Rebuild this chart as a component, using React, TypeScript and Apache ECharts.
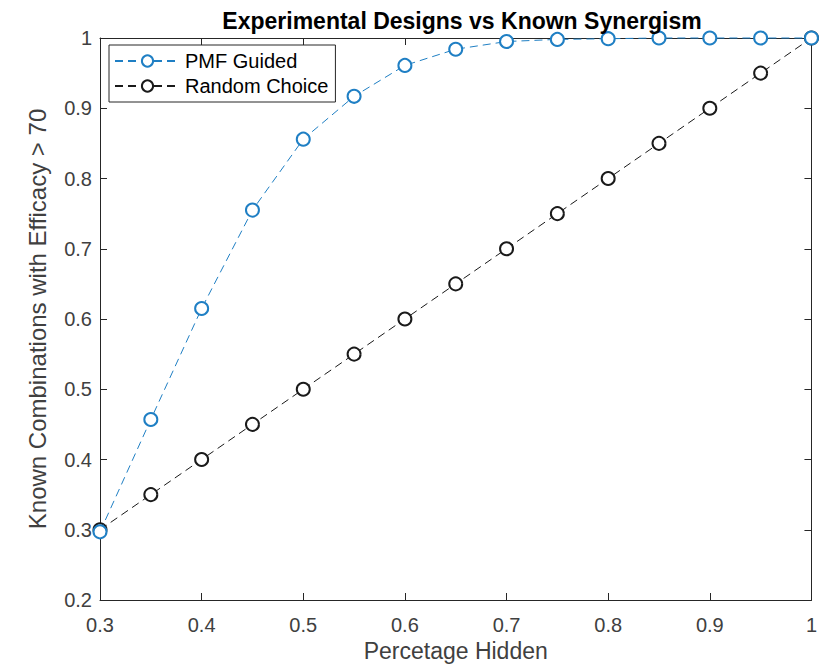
import React, { useEffect, useRef } from "react";
import * as echarts from "echarts";

const xValues = [0.3, 0.35, 0.4, 0.45, 0.5, 0.55, 0.6, 0.65, 0.7, 0.75, 0.8, 0.85, 0.9, 0.95, 1.0];
const pmfGuided = [0.297, 0.457, 0.615, 0.755, 0.856, 0.917, 0.961, 0.984, 0.995, 0.998, 0.999, 1.0, 1.0, 1.0, 1.0];
const randomChoice = [0.3, 0.35, 0.4, 0.45, 0.5, 0.55, 0.6, 0.65, 0.7, 0.75, 0.8, 0.85, 0.9, 0.95, 1.0];

const FONT = "Liberation Sans, Arial, Helvetica, sans-serif";
const AXIS_COLOR = "#262626";
const LABEL_COLOR = "#404040";
const BLUE = "#1f7fc4";
const BLACK = "#1a1a1a";

export default function App() {
  const ref = useRef<HTMLDivElement>(null);
  useEffect(() => {
    if (!ref.current) return;
    const chart = echarts.init(ref.current, undefined, { renderer: "svg" });
    const fmt = (v: number) => String(+v.toFixed(1));
    const tick = { show: true, inside: true, length: 7, lineStyle: { color: AXIS_COLOR, width: 1 } };
    const axisLine = { show: true, lineStyle: { color: AXIS_COLOR, width: 1 } };
    chart.setOption({
      animation: false,
      backgroundColor: "#ffffff",
      title: {
        text: "Experimental Designs vs Known Synergism",
        left: 457,
        textAlign: "center",
        top: 4,
        textStyle: { fontFamily: FONT, fontSize: 23, fontWeight: "bold", color: "#000" },
      },
      legend: {
        orient: "vertical",
        left: 109,
        top: 45,
        backgroundColor: "#fff",
        borderColor: AXIS_COLOR,
        borderWidth: 1,
        borderRadius: 0,
        padding: [6, 7, 6, 5],
        itemGap: 5,
        itemWidth: 65,
        itemHeight: 14,
        textStyle: { fontFamily: FONT, fontSize: 20, color: "#000" },
        data: ["PMF Guided", "Random Choice"],
      },
      grid: { left: 100, right: 6, top: 38, bottom: 71, containLabel: false },
      xAxis: [
        {
          type: "value",
          min: 0.3,
          max: 1,
          interval: 0.1,
          name: "Percetage Hidden",
          nameLocation: "middle",
          nameGap: 38,
          nameTextStyle: { fontFamily: FONT, fontSize: 23, color: LABEL_COLOR },
          axisLine,
          axisTick: tick,
          splitLine: { show: false },
          axisLabel: { fontFamily: FONT, fontSize: 20, color: LABEL_COLOR, margin: 15, formatter: fmt },
        },
        {
          type: "value",
          position: "top",
          min: 0.3,
          max: 1,
          interval: 0.1,
          axisLine,
          axisTick: tick,
          splitLine: { show: false },
          axisLabel: { show: false },
        },
      ],
      yAxis: [
        {
          type: "value",
          min: 0.2,
          max: 1,
          interval: 0.1,
          name: "Known Combinations with Efficacy > 70",
          nameLocation: "middle",
          nameGap: 51,
          nameTextStyle: { fontFamily: FONT, fontSize: 24, color: LABEL_COLOR },
          axisLine,
          axisTick: tick,
          splitLine: { show: false },
          axisLabel: { fontFamily: FONT, fontSize: 20, color: LABEL_COLOR, margin: 8, formatter: fmt },
        },
        {
          type: "value",
          position: "right",
          min: 0.2,
          max: 1,
          interval: 0.1,
          axisLine,
          axisTick: tick,
          splitLine: { show: false },
          axisLabel: { show: false },
        },
      ],
      series: [
        {
          name: "PMF Guided",
          type: "line",
          data: xValues.map((x, i) => [x, pmfGuided[i]]),
          symbol: "emptyCircle",
          symbolSize: 13,
          clip: false,
          z: 3,
          emphasis: { disabled: true },
          lineStyle: { color: BLUE, width: 1, type: [8, 5] },
          itemStyle: { color: BLUE, borderColor: BLUE, borderWidth: 1 },
        },
        {
          name: "Random Choice",
          type: "line",
          data: xValues.map((x, i) => [x, randomChoice[i]]),
          symbol: "emptyCircle",
          symbolSize: 13,
          clip: false,
          z: 2,
          emphasis: { disabled: true },
          lineStyle: { color: BLACK, width: 1, type: [8, 5] },
          itemStyle: { color: BLACK, borderColor: BLACK, borderWidth: 1 },
        },
      ],
    });
    return () => chart.dispose();
  }, []);
  return <div ref={ref} style={{ width: 820, height: 671, position: "absolute", left: 0, top: 0 }} />;
}
